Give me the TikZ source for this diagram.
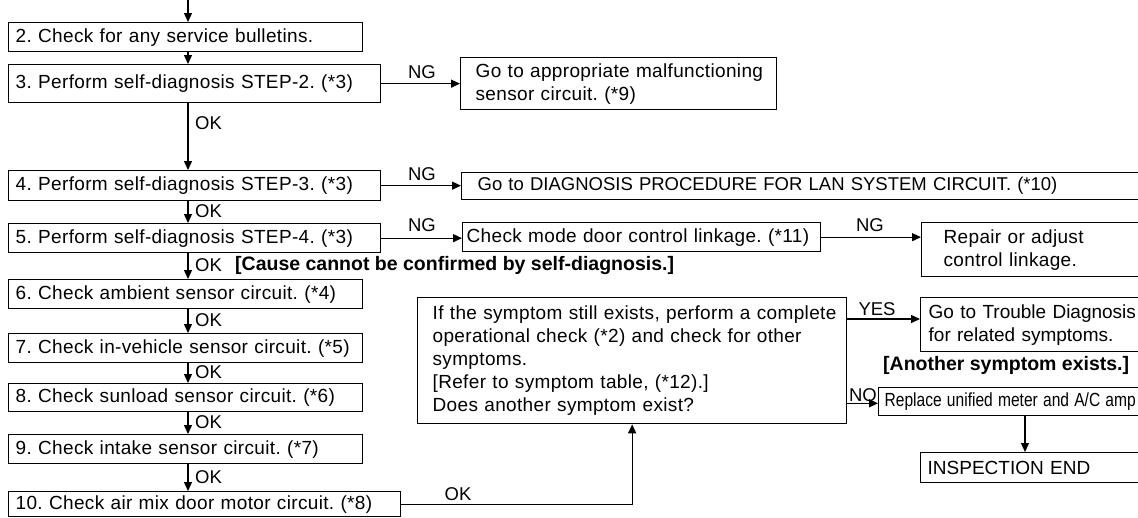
\documentclass[tikz,border=0pt]{standalone}
\usepackage{fontspec}
\setmainfont{Liberation Sans}
\newfontfamily\wideface[LetterSpace=1.8]{Liberation Sans}
\usetikzlibrary{arrows.meta}
\frenchspacing
\hbadness=10000 \hfuzz=100pt
\begin{document}
\begin{tikzpicture}[x=1pt,y=-1pt,
  every node/.style={font=\wideface\fontsize{19}{23}\selectfont},
  box/.style={draw, line width=1.3pt, anchor=north west, inner ysep=0pt, align=left},
  lbl/.style={font=\fontsize{18.5}{20}\selectfont, inner sep=0pt},
  bnote/.style={font=\fontsize{19.5}{21}\selectfont\bfseries, inner sep=0pt, anchor=west},
  arr/.style={line width=1.3pt, -{Triangle[length=9pt,width=8pt]}},
  ln/.style={line width=1.3pt}]
\useasboundingbox (0,0) rectangle (1138,517);
\clip (0,0) rectangle (1138,517);
% left column
\node[box, minimum width=354, minimum height=29, text width=340, inner xsep=7] (b2) at (8,22) {2. Check for any service bulletins.};
\node[box, minimum width=372, minimum height=38, text width=358, inner xsep=7] (b3) at (8,64) {3. Perform self-diagnosis STEP-2. (*3)};
\node[box, minimum width=372, minimum height=30, text width=358, inner xsep=7] (b4) at (8,170) {4. Perform self-diagnosis STEP-3. (*3)};
\node[box, minimum width=372, minimum height=29, text width=358, inner xsep=7] (b5) at (8,223) {5. Perform self-diagnosis STEP-4. (*3)};
\node[box, minimum width=354, minimum height=29, text width=340, inner xsep=7] (b6) at (8,279) {6. Check ambient sensor circuit. (*4)};
\node[box, minimum width=354, minimum height=29, text width=340, inner xsep=7] (b7) at (8,333) {7. Check in-vehicle sensor circuit. (*5)};
\node[box, minimum width=354, minimum height=28, text width=340, inner xsep=7] (b8) at (8,383) {8. Check sunload sensor circuit. (*6)};
\node[box, minimum width=354, minimum height=29, text width=340, inner xsep=7] (b9) at (8,434) {9. Check intake sensor circuit. (*7)};
\node[box, minimum width=392, minimum height=25, text width=378, inner xsep=7] (b10) at (8,491) {10. Check air mix door motor circuit. (*8)};
% right side
\node[box, minimum width=316, minimum height=52, text width=286, inner xsep=15] (app) at (460,57) {Go to appropriate malfunctioning\\sensor circuit. (*9)};
\node[box, minimum width=700, minimum height=27, text width=668, inner xsep=16, font=\fontsize{18.5}{23}\selectfont] (lan) at (461,172) {Go to DIAGNOSIS PROCEDURE FOR LAN SYSTEM CIRCUIT. (*10)};
\node[box, minimum width=358, minimum height=29, text width=350, inner xsep=4] (mode) at (462,222) {Check mode door control linkage. (*11)};
\node[box, minimum width=240, minimum height=54, text width=196, inner xsep=22] (rep) at (921,222) {Repair or adjust\\control linkage.};
\node[box, minimum width=429, minimum height=126, text width=399, inner xsep=15] (big) at (417,297) {\mbox{If the symptom still exists, perform a complete}\\operational check (*2) and check for other\\symptoms.\\{}[Refer to symptom table, (*12).]\\Does another symptom exist?};
\node[box, minimum width=240, minimum height=54, text width=224, inner xsep=8, font=\fontsize{19}{23}\selectfont] (tr) at (920,297) {Go to Trouble Diagnosis\\for related symptoms.};
\node[box, minimum width=282, minimum height=28, text width=270, inner xsep=6, font=\fontsize{19}{23}\selectfont] (rpl) at (878,387) {\scalebox{0.82}[1]{Replace unified meter and A/C amp}};
\node[box, minimum width=240, minimum height=30, text width=226, inner xsep=7, font=\fontsize{19}{23}\selectfont] (insp) at (920,452) {INSPECTION END};
% spine
\coordinate (top) at (188,0);
\coordinate (c) at (1025,0);
\draw[arr] (top) -- (top |- b2.north);
\draw[arr] (top |- b2.south) -- (top |- b3.north);
\draw[arr] (top |- b3.south) -- (top |- b4.north);
\draw[arr] (top |- b4.south) -- (top |- b5.north);
\draw[arr] (top |- b5.south) -- (top |- b6.north);
\draw[arr] (top |- b6.south) -- (top |- b7.north);
\draw[arr] (top |- b7.south) -- (top |- b8.north);
\draw[arr] (top |- b8.south) -- (top |- b9.north);
\draw[arr] (top |- b9.south) -- (top |- b10.north);
% OK labels
\node[lbl, anchor=west] (ok3) at (195,123) {OK};
\node[lbl, anchor=west] (ok4) at (195,211.5) {OK};
\node[lbl, anchor=west] (ok5) at (195,265.5) {OK};
\node[lbl, anchor=west] (ok6) at (195,320.5) {OK};
\node[lbl, anchor=west] (ok7) at (195,372.5) {OK};
\node[lbl, anchor=west] (ok8) at (195,422.5) {OK};
\node[lbl, anchor=west] (ok9) at (195,477) {OK};
\node[bnote] (cause) at (235,265.5) {[Cause cannot be confirmed by self-diagnosis.]};
% horizontal branches
\draw[arr] (b3.east) -- (b3.east -| app.west);
\node[lbl] (ng3) at (422,72) {NG};
\draw[arr] (b4.east) -- (b4.east -| lan.west);
\node[lbl] (ng4) at (422,174) {NG};
\draw[arr] (b5.east) -- (b5.east -| mode.west);
\node[lbl] (ng5) at (422,225) {NG};
\draw[arr] (mode.east) -- (mode.east -| rep.west);
\node[lbl] (ngm) at (870,225) {NG};
\draw[arr] ([yshift=-22pt]big.north east) -- ([yshift=-22pt]big.north east -| tr.west);
\node[lbl] (yes) at (877,309) {YES};
\node[bnote] (another) at (883,365) {[Another symptom exists.]};
\draw[arr] ([yshift=21pt]big.south east) -- ([yshift=21pt]big.south east -| rpl.west);
\node[lbl] (no) at (863,395) {NO};
\draw[arr] (rpl.south -| c) -- (insp.north -| c);
\draw[arr] (b10.east) -| (big.south);
\node[lbl] (okb) at (458,494) {OK};
\end{tikzpicture}
\end{document}
